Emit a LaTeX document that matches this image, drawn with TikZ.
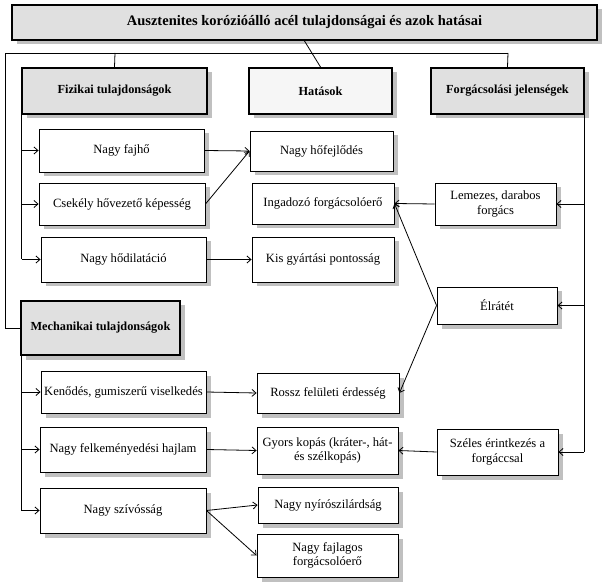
\documentclass[tikz,border=0pt]{standalone}
\usepackage{fontspec}
\setmainfont{Liberation Serif}
\usetikzlibrary{arrows.meta,shadows}
\definecolor{hdrgray}{HTML}{E0E0E0}
\definecolor{hatgray}{HTML}{F6F6F6}
\definecolor{shadowgray}{HTML}{C0C0C0}
\tikzset{
  shad/.style={drop shadow={shadow xshift=4.5pt,shadow yshift=-4.5pt,fill=shadowgray,opacity=1}},
  box/.style={draw=black,line width=0.9pt,fill=white,inner sep=1pt,align=center,
    font=\fontsize{12.6}{14.5}\selectfont,shad},
  hdr/.style={box,line width=2pt,fill=hdrgray,font=\fontsize{12.3}{14}\selectfont\bfseries},
  conn/.style={draw=black,line width=0.8pt},
  arr/.style={conn,-{Straight Barb[length=4pt,width=7pt]}},
}
\begin{document}
\begin{tikzpicture}[x=1pt,y=-1pt]
\useasboundingbox (0,0) rectangle (605,585);
% headers
\node[hdr,minimum width=585pt,minimum height=35pt,font=\fontsize{14.5}{16}\selectfont\bfseries] (title) at (304.5,22.5) {Ausztenites korózióálló acél tulajdonságai és azok hatásai};
\node[hdr,minimum width=185pt,minimum height=46pt] (fiz) at (114.5,91) {Fizikai tulajdonságok};
\node[hdr,fill=hatgray,minimum width=143pt,minimum height=46pt] (hat) at (320.5,91) {Hatások};
\node[hdr,minimum width=153pt,minimum height=46pt] (forg) at (507.5,91) {Forgácsolási jelenségek};
\node[hdr,minimum width=159pt,minimum height=54pt] (mech) at (100.5,328) {Mechanikai tulajdonságok};
% physical
\node[box,minimum width=165pt,minimum height=43pt] (fajho) at (121.5,150.5) {Nagy fajhő};
\node[box,minimum width=166pt,minimum height=42pt] (csek) at (122,204) {Csekély hővezető képesség};
\node[box,minimum width=165pt,minimum height=45pt] (hodil) at (123.5,259.5) {Nagy hődilatáció};
% effects
\node[box,minimum width=143pt,minimum height=40pt] (hofejl) at (321.5,151) {Nagy hőfejlődés};
\node[box,minimum width=142pt,minimum height=41pt] (ingad) at (323,203.5) {Ingadozó forgácsolóerő};
\node[box,minimum width=142pt,minimum height=45pt] (kisgy) at (323,259.5) {Kis gyártási pontosság};
\node[box,minimum width=142pt,minimum height=40pt] (rossz) at (328,393) {Rossz felületi érdesség};
\node[box,minimum width=141pt,minimum height=47pt] (gyors) at (327.5,450.5) {Gyors kopás (kráter-, hát-\\és szélkopás)};
\node[box,minimum width=140pt,minimum height=36pt] (nyir) at (328,505) {Nagy nyírószilárdság};
\node[box,minimum width=141pt,minimum height=43pt] (fajl) at (327.5,555.5) {Nagy fajlagos\\forgácsolóerő};
% cutting phenomena
\node[box,minimum width=121pt,minimum height=42pt] (lemez) at (495.5,204) {Lemezes, darabos\\forgács};
\node[box,minimum width=120pt,minimum height=37pt] (elr) at (497,305.5) {Élrátét};
\node[box,minimum width=121pt,minimum height=46pt] (szeles) at (497.5,452) {Széles érintkezés a\\forgáccsal};
% mechanical
\node[box,minimum width=165pt,minimum height=42pt] (kenod) at (123.5,392) {Kenődés, gumiszerű viselkedés};
\node[box,minimum width=166pt,minimum height=45pt] (felkem) at (123,449.5) {Nagy felkeményedési hajlam};
\node[box,minimum width=166pt,minimum height=45pt] (sziv) at (123,510.5) {Nagy szívósság};
% coordinates
\coordinate (tl) at (5.7,53);
\coordinate (tr) at (508,53);
\coordinate (tf) at (115,53);
\coordinate (ml) at (5.7,328);
\coordinate (fizL) at (21.7,114);
\coordinate (mechL) at (21,355);
\coordinate (forgR) at (584,114);
% top connectors
\draw[conn] (title.south) -- (hat.north);
\draw[conn] (tr) -- (tl) -- (ml) -- (mech.west);
\draw[conn] (tf) -- (fiz.north);
\draw[conn] (tr) -- (forg.north);
% left trunk physical
\draw[conn] (fizL) -- (fizL |- hodil.west);
\draw[arr] (fizL |- fajho.west) -- (fajho.west);
\draw[arr] (fizL |- csek.west) -- (csek.west);
\draw[arr] (fizL |- hodil.west) -- (hodil.west);
% left trunk mechanical
\draw[conn] (mechL) -- (mechL |- sziv.west);
\draw[arr] (mechL |- kenod.west) -- (kenod.west);
\draw[arr] (mechL |- felkem.west) -- (felkem.west);
\draw[arr] (mechL |- sziv.west) -- (sziv.west);
% right trunk
\draw[conn] (forgR) -- (forgR |- szeles.east);
\draw[arr] (forgR |- lemez.east) -- (lemez.east);
\draw[arr] (forgR |- elr.east) -- (elr.east);
\draw[arr] (forgR |- szeles.east) -- (szeles.east);
% effects
\draw[arr] (fajho.east) -- (hofejl.west);
\draw[arr] (csek.east) -- (hofejl.west);
\draw[arr] (hodil.east) -- (kisgy.west);
\draw[arr] (lemez.west) -- (ingad.east);
\draw[arr] (elr.west) -- (ingad.east);
\draw[arr] (elr.west) -- (rossz.east);
\draw[arr] (kenod.east) -- (rossz.west);
\draw[arr] (felkem.east) -- (gyors.west);
\draw[arr] (szeles.west) -- (gyors.east);
\draw[arr] (sziv.east) -- (nyir.west);
\draw[arr] (sziv.east) -- (fajl.west);
\end{tikzpicture}
\end{document}
